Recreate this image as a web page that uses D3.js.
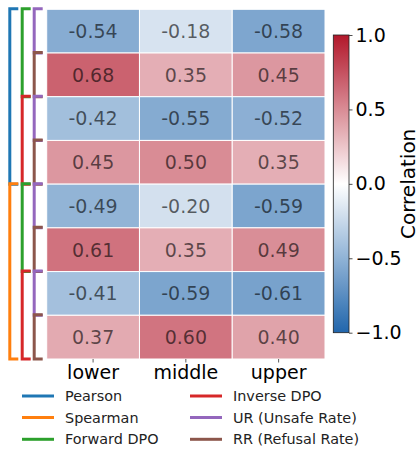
<!DOCTYPE html>
<html>
<head>
<meta charset="utf-8">
<script src="https://cdn.jsdelivr.net/npm/d3@7/dist/d3.min.js"></script>
<style>
  html, body { margin: 0; padding: 0; background: #fff; }
  svg { display: block; font-family: "DejaVu Sans", sans-serif; }
</style>
</head>
<body>
<svg id="chart" width="420" height="450"></svg>
<script>
// Column categories (x axis)
const columns = ["lower", "middle", "upper"];

// Row structure: metric > training direction > rate
const metrics = ["Pearson", "Spearman"];
const methods = ["Forward DPO", "Inverse DPO"];
const rates = ["UR (Unsafe Rate)", "RR (Refusal Rate)"];

// Correlation values, one array per row (top to bottom)
const pearsonForwardUR   = [-0.54, -0.18, -0.58];
const pearsonForwardRR   = [ 0.68,  0.35,  0.45];
const pearsonInverseUR   = [-0.42, -0.55, -0.52];
const pearsonInverseRR   = [ 0.45,  0.50,  0.35];
const spearmanForwardUR  = [-0.49, -0.20, -0.59];
const spearmanForwardRR  = [ 0.61,  0.35,  0.49];
const spearmanInverseUR  = [-0.41, -0.59, -0.61];
const spearmanInverseRR  = [ 0.37,  0.60,  0.40];

// Colorbar ticks
const cbarTicks = [1.0, 0.5, 0.0, -0.5, -1.0];

const rowValues = [
  pearsonForwardUR, pearsonForwardRR, pearsonInverseUR, pearsonInverseRR,
  spearmanForwardUR, spearmanForwardRR, spearmanInverseUR, spearmanInverseRR
];

// Build row descriptors from the nested structure
const rows = [];
metrics.forEach(m => methods.forEach(d => rates.forEach(r => rows.push({metric: m, method: d, rate: r}))));
rows.forEach((r, i) => { r.id = i; r.values = rowValues[i]; });

const cells = [];
rows.forEach(r => r.values.forEach((v, j) => cells.push({row: r.id, col: columns[j], value: v})));

// Category colours
const catColor = {
  "Pearson": "#1f77b4", "Spearman": "#ff7f0e",
  "Forward DPO": "#2ca02c", "Inverse DPO": "#d62728",
  "UR (Unsafe Rate)": "#9467bd", "RR (Refusal Rate)": "#8c564b"
};

const svg = d3.select("#chart");

// Heatmap geometry
const x = d3.scaleBand().domain(columns).range([46.7, 325]);
const y = d3.scaleBand().domain(d3.range(rows.length)).range([9.3, 359]);

// Diverging colour: blue - white - red
const color = d3.scaleLinear()
  .domain([-1, 0, 1])
  .range(["#2166ac", "#ffffff", "#b2182b"])
  .interpolate(d3.interpolateRgb);

const g = svg.append("g");
g.selectAll("rect.cell").data(cells).join("rect")
  .attr("class", "cell")
  .attr("x", d => x(d.col))
  .attr("y", d => y(d.row))
  .attr("width", x.bandwidth())
  .attr("height", y.bandwidth())
  .attr("fill", d => color(d.value))
  .attr("stroke", "#ffffff")
  .attr("stroke-width", 1);

g.selectAll("text.val").data(cells).join("text")
  .attr("class", "val")
  .attr("x", d => x(d.col) + x.bandwidth() / 2)
  .attr("y", d => y(d.row) + y.bandwidth() / 2)
  .attr("dy", "0.36em")
  .attr("text-anchor", "middle")
  .attr("font-size", 19)
  .attr("fill", "#000")
  .attr("fill-opacity", 0.6)
  .text(d => d.value.toFixed(2));

// X axis
const xAxis = svg.append("g")
  .attr("transform", `translate(0,${y.range()[1]})`)
  .call(d3.axisBottom(x).tickSize(3.5).tickPadding(3));
xAxis.select(".domain").remove();
xAxis.selectAll(".tick line").attr("stroke", "#333").attr("stroke-width", 0.8);
xAxis.selectAll(".tick text")
  .attr("font-size", 19)
  .attr("font-family", "DejaVu Sans, sans-serif")
  .attr("fill", "#000");

// Hierarchical brackets on the left
function bracketPath(x0, top, bottom, tick) {
  return `M${x0 + tick},${top}H${x0}V${bottom}H${x0 + tick}`;
}
const levels = [
  {key: "metric", x: 9.8, size: 4},
  {key: "method", x: 22.2, size: 2},
  {key: "rate", x: 34.2, size: 1}
];
const bracketG = svg.append("g").attr("fill", "none").attr("stroke-width", 3);
levels.forEach(lv => {
  const groups = [];
  for (let i = 0; i < rows.length; i += lv.size) {
    groups.push({start: i, end: i + lv.size - 1, label: rows[i][lv.key]});
  }
  bracketG.selectAll(null).data(groups).join("path")
    .attr("d", gp => bracketPath(lv.x, y(gp.start) - 0.5, y(gp.end) + y.bandwidth(), 8.5))
    .attr("stroke", gp => catColor[gp.label]);
});

// Colorbar
const cb = {x: 333.3, w: 15.7, top: 35, bottom: 332.7};
const cbScale = d3.scaleLinear().domain([-1, 1]).range([cb.bottom, cb.top]);
const defs = svg.append("defs");
const grad = defs.append("linearGradient").attr("id", "cbar")
  .attr("x1", 0).attr("y1", 1).attr("x2", 0).attr("y2", 0);
d3.range(-1, 1.0001, 0.1).forEach(v => {
  grad.append("stop").attr("offset", (v + 1) / 2).attr("stop-color", color(v));
});
svg.append("rect")
  .attr("x", cb.x).attr("y", cb.top)
  .attr("width", cb.w).attr("height", cb.bottom - cb.top)
  .attr("fill", "url(#cbar)")
  .attr("stroke", "#222").attr("stroke-width", 0.8);

const cbAxis = svg.append("g")
  .attr("transform", `translate(${cb.x + cb.w},0)`)
  .call(d3.axisRight(cbScale).tickValues(cbarTicks).tickSize(3.5).tickPadding(3)
    .tickFormat(d => d3.format(".1f")(d).replace("-", "\u2212")));
cbAxis.select(".domain").remove();
cbAxis.selectAll(".tick line").attr("stroke", "#222").attr("stroke-width", 0.8);
cbAxis.selectAll(".tick text")
  .attr("font-size", 19)
  .attr("font-family", "DejaVu Sans, sans-serif")
  .attr("fill", "#000");

svg.append("text")
  .attr("transform", `translate(415,${(cb.top + cb.bottom) / 2}) rotate(-90)`)
  .attr("text-anchor", "middle")
  .attr("font-size", 20)
  .text("Correlation");

// Legend: two columns of three entries
const legendItems = [...metrics, methods[0], methods[1], ...rates];
const legendCols = [{lx: 22, tx: 65}, {lx: 190, tx: 233}];
const legendRowsY = [396, 417.5, 439.3];
const lg = svg.append("g");
legendItems.forEach((name, i) => {
  const c = legendCols[Math.floor(i / 3)];
  const yy = legendRowsY[i % 3];
  lg.append("line")
    .attr("x1", c.lx).attr("x2", c.lx + 32)
    .attr("y1", yy).attr("y2", yy)
    .attr("stroke", catColor[name]).attr("stroke-width", 3);
  lg.append("text")
    .attr("x", c.tx).attr("y", yy).attr("dy", "0.36em")
    .attr("font-size", 14.4)
    .attr("fill", "#222")
    .text(name);
});
</script>
</body>
</html>
